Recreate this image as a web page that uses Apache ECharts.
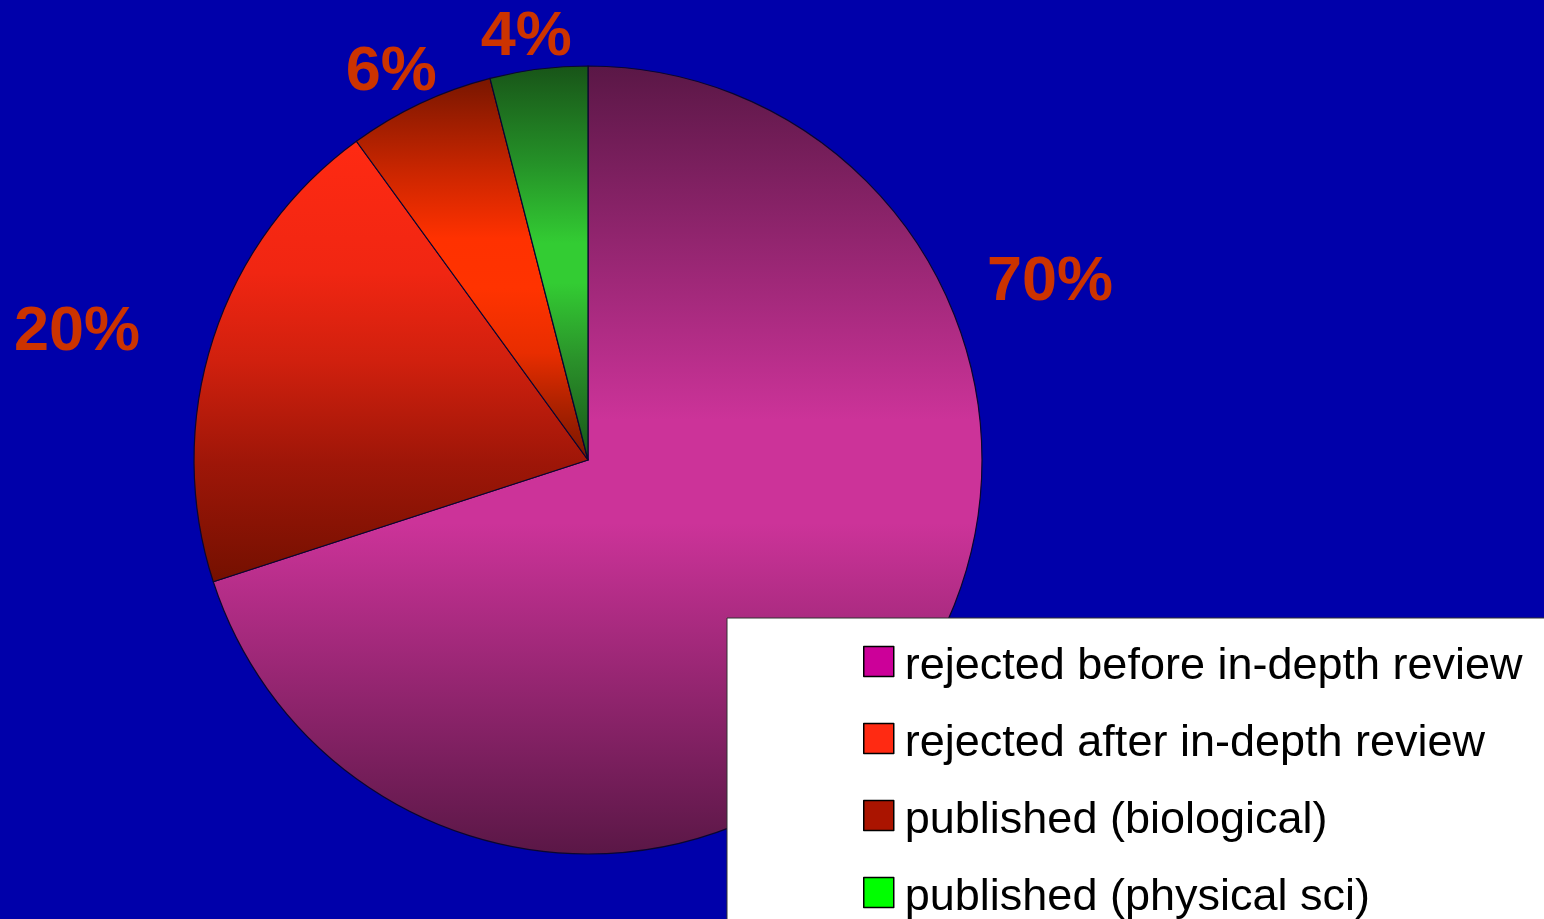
<!DOCTYPE html>
<html>
<head>
<meta charset="utf-8">
<title>Manuscript outcomes</title>
<script src="https://cdn.jsdelivr.net/npm/echarts@6/dist/echarts.min.js"></script>
<style>
  html, body { margin: 0; padding: 0; background: #0000aa; }
  #chart { width: 1544px; height: 919px; }
</style>
</head>
<body>
<div id="chart"></div>
<script>
// data
const categories = [
  "rejected before in-depth review",
  "rejected after in-depth review",
  "published (biological)",
  "published (physical sci)"
];
const shares = [70, 20, 6, 4];

// flat colours for the legend keys
const keyColors = ["#cc0099", "#ff2a12", "#aa1400", "#00ff00"];

// vertical shading of each slice (top -> bottom of the slice)
const sliceStops = [
  [[0, "#5a1746"], [0.45, "#cc3399"], [0.58, "#cc3399"], [1, "#5a1746"]],
  [[0, "#ff2a12"], [0.3, "#f02612"], [0.5, "#d0200e"], [0.73, "#9e1608"], [1, "#741000"]],
  [[0, "#781600"], [0.25, "#cc2600"], [0.42, "#ff3100"], [0.55, "#ff3300"], [0.72, "#e82d00"], [0.85, "#b02200"], [1, "#781600"]],
  [[0, "#185418"], [0.25, "#259228"], [0.45, "#33cc33"], [0.55, "#33cc33"], [0.75, "#2a902a"], [1, "#185418"]]
];

// nudges for the percent labels (the 70% one sits up by the top right)
const labelShift = [[63, -418], [-54, -1], [28, -17], [40, -17]];

const FONT = "'Liberation Sans', Arial, sans-serif";

function vGrad(stops) {
  return new echarts.graphic.LinearGradient(0, 0, 0, 1,
    stops.map(([offset, color]) => ({ offset, color })));
}

const chart = echarts.init(document.getElementById("chart"), null, { renderer: "canvas" });

chart.setOption({
  backgroundColor: "#0000aa",
  animation: false,
  legend: {
    orient: "vertical",
    left: 727,
    top: 618,
    height: 400,
    padding: [16, 60, 30, 136],
    backgroundColor: "#ffffff",
    borderColor: "#333333",
    borderWidth: 1,
    itemWidth: 30,
    itemHeight: 30,
    itemGap: 22,
    icon: "rect",
    selectedMode: false,
    itemStyle: { borderColor: "#000", borderWidth: 1.5 },
    formatter: (name) => "{t|" + name + "}",
    textStyle: {
      fontFamily: FONT,
      fontSize: 45,
      color: "#000",
      rich: {
        t: {
          fontFamily: FONT,
          fontSize: 45,
          lineHeight: 52,
          color: "#000",
          padding: [10, 0, 0, 6]
        }
      }
    },
    data: categories.map((name, i) => ({
      name,
      itemStyle: { color: keyColors[i] }
    }))
  },
  series: [
    {
      type: "pie",
      center: [588, 460],
      radius: 394,
      startAngle: 90,
      clockwise: true,
      avoidLabelOverlap: false,
      emphasis: { disabled: true },
      itemStyle: { borderColor: "#0a0630", borderWidth: 1.2 },
      label: {
        show: true,
        position: "outside",
        formatter: (p) => Math.round(p.percent) + "%",
        fontFamily: FONT,
        fontSize: 63,
        fontWeight: "bold",
        color: "#cc3300"
      },
      labelLine: { show: false, length: 15, length2: 0 },
      labelLayout: (p) => ({ dx: labelShift[p.dataIndex][0], dy: labelShift[p.dataIndex][1] }),
      data: categories.map((name, i) => ({
        name,
        value: shares[i],
        itemStyle: { color: vGrad(sliceStops[i]) }
      }))
    }
  ]
});
</script>
</body>
</html>
